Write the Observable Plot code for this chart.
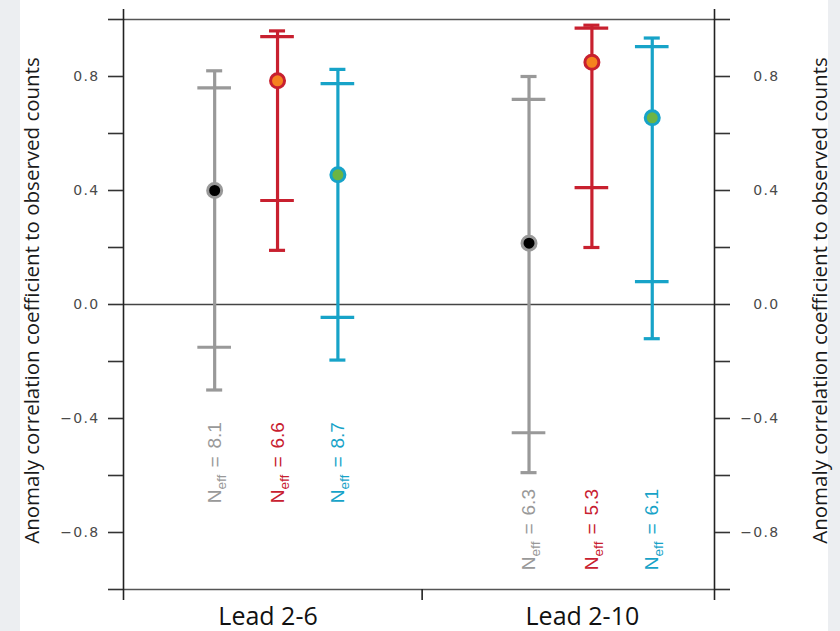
<!DOCTYPE html>
<html>
<head>
<meta charset="utf-8">
<script src="https://cdn.jsdelivr.net/npm/d3@7"></script>
<script src="https://cdn.jsdelivr.net/npm/@observablehq/plot@0.6"></script>
<style>
  html, body { margin: 0; padding: 0; background: #fff; }
  #chart { width: 840px; height: 631px; }
  #chart svg { display: block; }
  [aria-label="y-axis tick label"] text { letter-spacing: 1.3px; }
</style>
</head>
<body>
<div id="chart"></div>
<script>
// ---- data ----
const leads = ["Lead 2-6", "Lead 2-10"];
const series = ["grey", "red", "blue"];
// values ordered lead x series
const estimate = [0.400, 0.785, 0.455, 0.215, 0.850, 0.655];
const innerLo  = [-0.150, 0.365, -0.045, -0.450, 0.410, 0.080];
const innerHi  = [0.760, 0.940, 0.775, 0.720, 0.970, 0.905];
const outerLo  = [-0.300, 0.190, -0.195, -0.590, 0.200, -0.120];
const outerHi  = [0.820, 0.960, 0.825, 0.800, 0.980, 0.935];
const neff     = [8.1, 6.6, 8.7, 6.3, 5.3, 6.1];
const yTicks   = [-1, -0.8, -0.6, -0.4, -0.2, 0, 0.2, 0.4, 0.6, 0.8, 1];
const yLabels  = [-0.8, -0.4, 0, 0.4, 0.8];
const xBreaks  = [0.51, 1.46, 2.39];
const yTitle   = "Anomaly correlation coefficient to observed counts";

// ---- styles / layout ----
const lineColor  = {grey: "#999999", red: "#c8202f", blue: "#17a3c8"};
const pointFill  = {grey: "#000000", red: "#f5821f", blue: "#6cb544"};
const seriesOffset = {grey: -0.2, red: 0, blue: 0.192};
const neffLabelY = {"Lead 2-6": -0.555, "Lead 2-10": -0.79};
const capHalf = 0.0255, barHalf = 0.0535;

const rows = [];
leads.forEach((lead, li) => series.forEach((s, si) => {
  const k = li * series.length + si;
  rows.push({lead, series: s, est: estimate[k], iLo: innerLo[k], iHi: innerHi[k],
             oLo: outerLo[k], oHi: outerHi[k], neff: neff[k]});
}));
const xpos = d => leads.indexOf(d.lead) + 1 + seriesOffset[d.series];
const caps = rows.flatMap(d => [
  {...d, v: d.oHi, h: capHalf}, {...d, v: d.oLo, h: capHalf},
  {...d, v: d.iHi, h: barHalf}, {...d, v: d.iLo, h: barHalf}
]);
const fmt = d => yLabels.some(v => Math.abs(v - d) < 1e-9) ? d3.format(".1f")(d) : "";

const svg = Plot.plot({
  width: 840, height: 631,
  marginLeft: 123, marginRight: 126, marginTop: 19, marginBottom: 42,
  x: {domain: [xBreaks[0], xBreaks[2]]},
  y: {domain: [-1, 1]},
  color: {type: "identity"},
  style: {
    background: "linear-gradient(to right, #eceef1 0px, #eceef1 20px, #ffffff 20px, #ffffff 828px, #eceef1 828px)",
    fontFamily: "Open Sans", color: "#111"
  },
  marks: [
    Plot.ruleY([0], {stroke: "#444", strokeWidth: 1.6}),
    Plot.ruleY([-1, 1], {stroke: "#555", strokeWidth: 1.6}),
    Plot.ruleX([xBreaks[0], xBreaks[2]], {stroke: "#222", strokeWidth: 1.6}),
    Plot.axisY({anchor: "left", ticks: yTicks, tickSize: 15, tickPadding: 9, tickFormat: fmt,
                label: null, stroke: "#333", strokeWidth: 1.6, fill: "#4a4a4a",
                fontSize: 14, fontFamily: "DejaVu Sans"}),
    Plot.axisY({anchor: "right", ticks: yTicks, tickSize: 15, tickPadding: 50, tickFormat: fmt,
                textAnchor: "end", label: null, stroke: "#333", strokeWidth: 1.6, fill: "#4a4a4a",
                fontSize: 14, fontFamily: "DejaVu Sans"}),
    Plot.axisX({anchor: "bottom", ticks: xBreaks, tickSize: 11, tickFormat: () => "",
                label: null, stroke: "#222", strokeWidth: 1.6}),
    Plot.axisX({anchor: "top", ticks: [xBreaks[0], xBreaks[2]], tickSize: 11, tickFormat: () => "",
                label: null, stroke: "#222", strokeWidth: 1.6}),
    Plot.axisX({anchor: "bottom", ticks: leads.map((l, i) => i + 1), tickSize: 0, tickPadding: 18,
                tickFormat: d => leads[d - 1], label: null, fontSize: 25, fontFamily: "Open Sans",
                fill: "#111", dx: -9.5}),
    Plot.ruleX(rows, {x: xpos, y1: "oLo", y2: "oHi", stroke: d => lineColor[d.series], strokeWidth: 3.2}),
    Plot.ruleY(caps, {y: "v", x1: d => xpos(d) - d.h, x2: d => xpos(d) + d.h,
                      stroke: d => lineColor[d.series], strokeWidth: 3.2}),
    Plot.dot(rows, {x: xpos, y: "est", r: 7, fill: d => pointFill[d.series],
                    stroke: d => lineColor[d.series], strokeWidth: 3}),
    Plot.text(rows, {x: xpos, y: d => neffLabelY[d.lead], text: d => `Neff = ${d.neff}`,
                     rotate: -90, textAnchor: "middle", fill: d => lineColor[d.series], fontSize: 19,
                     fontFamily: "Liberation Sans"}),
    Plot.text([yTitle], {frameAnchor: "left", textAnchor: "middle", dx: -91, dy: -4, rotate: -90,
                         fontSize: 20.5, fontFamily: "Open Sans", fill: "#1a1a1a"}),
    Plot.text([yTitle], {frameAnchor: "right", textAnchor: "middle", dx: 106, dy: -4, rotate: -90,
                         fontSize: 20.5, fontFamily: "Open Sans", fill: "#1a1a1a"})
  ]
});

// subscript "eff" in the Neff labels
d3.select(svg).selectAll("text").each(function () {
  const s = this.textContent;
  if (!/^Neff = /.test(s)) return;
  const t = d3.select(this);
  const val = s.replace(/^Neff = /, "");
  t.text(null);
  t.append("tspan").text("N");
  t.append("tspan").attr("font-size", "0.72em").attr("dy", "5").text("eff");
  t.append("tspan").attr("dy", "-5").attr("dx", "7").text("=");
  t.append("tspan").attr("dx", "8").text(val);
});

document.getElementById("chart").appendChild(svg);
</script>
</body>
</html>
